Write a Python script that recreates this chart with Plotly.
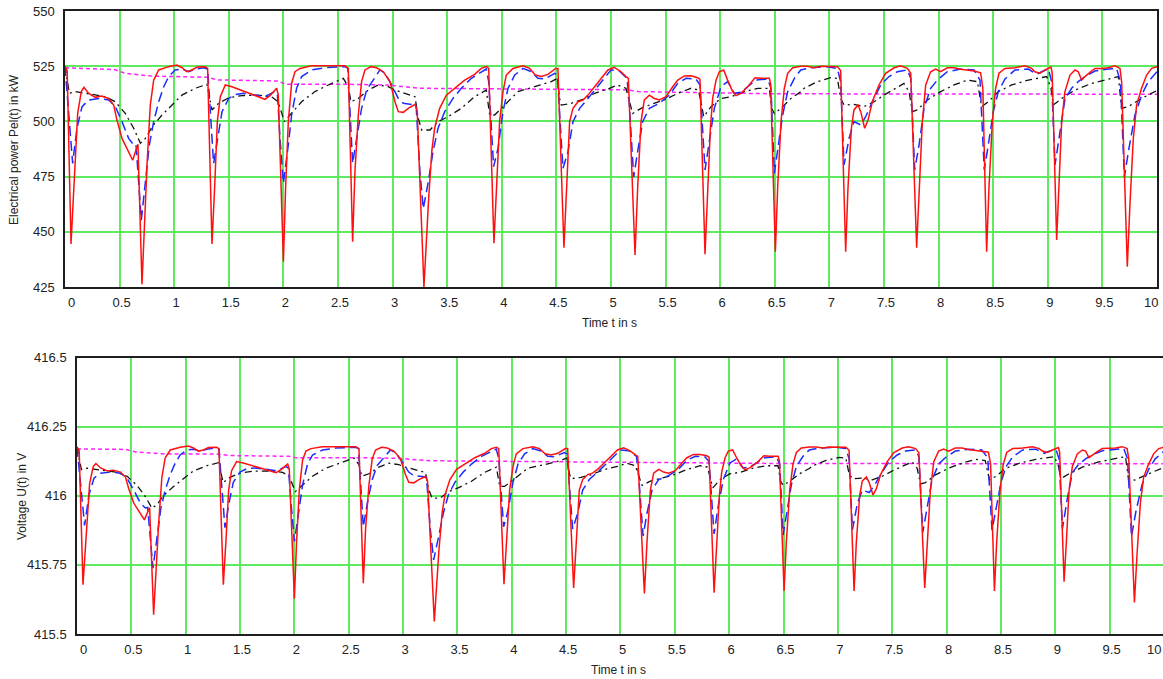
import plotly.graph_objects as go

# ---------------- data ----------------
t_red = [0.000,0.020,0.055,0.088,0.116,0.149,0.174,0.217,0.278,0.333,0.400,0.446,0.476,0.522,0.583,0.620,0.650,0.668,0.705,0.726,
         0.751,0.781,0.812,0.858,0.949,1.025,1.071,1.117,1.163,1.209,1.285,1.306,1.346,1.370,1.395,1.422,1.468,1.529,1.606,1.682,
         1.770,1.831,1.877,1.938,1.953,2.000,2.020,2.045,2.075,2.106,2.152,2.259,2.564,2.594,2.634,2.655,2.686,2.716,2.747,2.802,
         2.854,2.915,2.976,3.022,3.052,3.098,3.144,3.205,3.225,3.287,3.330,3.360,3.385,3.431,3.492,3.568,3.660,3.751,3.812,3.858,
         3.880,3.928,3.950,3.980,4.011,4.041,4.102,4.194,4.255,4.307,4.362,4.423,4.493,4.514,4.569,4.591,4.621,4.652,4.698,4.743,
         4.789,4.850,4.911,4.972,5.030,5.092,5.137,5.159,5.220,5.244,5.275,5.305,5.351,5.397,5.443,5.504,5.565,5.611,5.672,5.733,
         5.794,5.815,5.861,5.885,5.910,5.931,5.962,5.992,6.032,6.068,6.114,6.145,6.190,6.252,6.319,6.374,6.450,6.462,6.505,6.526,
         6.557,6.587,6.618,6.664,6.740,6.798,6.859,6.920,6.981,7.073,7.103,7.149,7.170,7.201,7.225,7.262,7.287,7.323,7.354,7.393,
         7.454,7.515,7.592,7.653,7.714,7.745,7.799,7.821,7.851,7.882,7.927,7.973,8.019,8.080,8.141,8.202,8.324,8.385,8.405,8.440,
         8.461,8.492,8.522,8.553,8.608,8.699,8.791,8.852,8.882,8.928,8.974,9.029,9.040,9.081,9.102,9.127,9.157,9.203,9.249,9.279,
         9.310,9.340,9.386,9.432,9.493,9.554,9.615,9.661,9.676,9.728,9.752,9.783,9.813,9.859,9.905,9.951,10.000]
p_red = [525.0,523.0,444.5,480.2,503.6,513.5,515.4,512.7,510.9,511.5,510.4,507.4,500.6,492.3,486.3,482.4,487.0,489.6,426.2,454.6,
         480.2,507.4,518.7,523.3,524.8,525.5,524.3,522.5,523.3,524.6,524.8,524.0,444.5,469.7,499.9,511.2,516.5,515.7,514.2,512.7,
         511.2,510.0,511.7,515.0,512.0,436.5,469.7,499.9,517.2,522.5,524.0,525.2,525.2,524.0,445.5,477.2,502.9,518.0,523.3,524.8,
         524.3,522.5,518.0,508.9,504.4,504.1,505.9,507.7,505.0,425.0,465.0,487.0,496.9,505.9,511.9,515.0,518.7,521.3,524.0,524.8,
         524.0,444.8,469.7,499.9,513.5,521.0,524.0,525.2,524.0,521.0,520.3,521.3,524.0,524.0,442.8,469.7,499.9,505.9,508.9,509.7,
         511.9,515.7,519.5,523.3,524.5,522.5,520.3,519.5,439.5,469.7,499.9,509.7,511.9,510.4,509.7,511.2,515.7,518.7,520.6,520.7,
         519.8,519.0,439.8,469.7,496.9,510.4,518.7,522.5,523.3,518.7,513.5,511.7,512.7,515.7,519.8,519.5,519.5,517.0,441.0,469.7,
         499.9,515.0,521.8,524.3,525.0,525.0,524.3,525.0,524.8,524.8,523.0,441.0,469.7,496.9,505.2,507.4,504.4,496.9,500.6,508.9,
         516.5,521.8,524.3,525.2,524.0,521.8,442.8,469.7,499.9,516.5,522.5,523.7,522.5,524.3,524.3,523.6,522.8,522.0,515.0,441.0,
         469.7,499.9,515.0,521.8,524.0,524.3,525.2,524.0,522.5,521.8,523.3,524.6,522.0,446.3,469.7,499.9,513.5,521.0,523.3,522.5,
         518.7,520.3,522.2,524.0,524.0,524.3,525.2,524.0,518.0,434.2,462.1,492.3,507.4,515.0,521.0,524.0,524.8]
u_red = [416.177,416.165,415.678,415.899,416.044,416.106,416.117,416.101,416.090,416.093,416.086,416.068,416.026,415.974,415.937,415.913,415.941,415.958,415.570,415.741,
         415.899,416.068,416.138,416.166,416.176,416.180,416.173,416.162,416.166,416.175,416.176,416.171,415.678,415.834,416.021,416.091,416.124,416.119,416.110,416.101,
         416.091,416.084,416.095,416.115,416.096,415.628,415.834,416.021,416.129,416.162,416.171,416.178,416.178,416.171,415.684,415.881,416.040,416.134,416.166,416.176,
         416.173,416.162,416.134,416.077,416.049,416.047,416.059,416.070,416.053,415.545,415.805,415.941,416.003,416.059,416.096,416.115,416.138,416.154,416.171,416.176,
         416.171,415.680,415.834,416.021,416.106,416.152,416.171,416.178,416.171,416.152,416.148,416.154,416.171,416.171,415.667,415.834,416.021,416.059,416.077,416.082,
         416.096,416.119,416.143,416.166,416.174,416.162,416.148,416.143,415.647,415.834,416.021,416.082,416.096,416.086,416.082,416.091,416.119,416.138,416.150,416.150,
         416.145,416.140,415.649,415.834,416.003,416.086,416.138,416.162,416.166,416.138,416.106,416.095,416.101,416.119,416.145,416.143,416.143,416.127,415.656,415.834,
         416.021,416.115,416.157,416.173,416.177,416.177,416.173,416.177,416.176,416.176,416.165,415.656,415.834,416.003,416.054,416.068,416.049,416.003,416.026,416.077,
         416.124,416.157,416.173,416.178,416.171,416.157,415.667,415.834,416.021,416.124,416.162,416.169,416.162,416.173,416.173,416.168,416.163,416.158,416.115,415.656,
         415.834,416.021,416.115,416.157,416.171,416.173,416.178,416.171,416.162,416.157,416.166,416.175,416.158,415.689,415.834,416.021,416.106,416.152,416.166,416.162,
         416.138,416.148,416.160,416.171,416.171,416.173,416.178,416.171,416.134,415.614,415.787,415.974,416.068,416.115,416.152,416.171,416.176]

t_blue = [0.000,0.015,0.070,0.110,0.156,0.217,0.308,0.400,0.461,0.522,0.583,0.629,0.650,0.699,0.736,0.772,0.812,0.858,0.904,0.949,
          1.010,1.071,1.132,1.193,1.270,1.306,1.361,1.398,1.438,1.499,1.560,1.636,1.740,1.831,1.923,1.945,1.969,2.000,2.045,2.075,
          2.121,2.167,2.259,2.380,2.564,2.590,2.634,2.671,2.716,2.762,2.823,2.884,2.930,2.991,3.052,3.098,3.174,3.215,3.250,3.281,
          3.327,3.370,3.416,3.477,3.553,3.629,3.721,3.812,3.858,3.880,3.925,3.965,4.011,4.057,4.118,4.194,4.270,4.331,4.392,4.484,
          4.508,4.560,4.606,4.652,4.713,4.789,4.865,4.942,5.000,5.076,5.147,5.168,5.208,5.244,5.290,5.351,5.443,5.534,5.611,5.687,
          5.778,5.815,5.861,5.900,5.946,6.007,6.068,6.129,6.190,6.252,6.328,6.435,6.465,6.496,6.526,6.572,6.618,6.679,6.737,6.829,
          6.981,7.073,7.103,7.134,7.180,7.225,7.287,7.332,7.393,7.470,7.546,7.622,7.714,7.745,7.781,7.821,7.867,7.927,7.988,8.080,
          8.202,8.324,8.379,8.418,8.455,8.501,8.547,8.608,8.699,8.821,8.898,8.944,9.005,9.035,9.066,9.111,9.157,9.218,9.279,9.340,
          9.432,9.554,9.630,9.665,9.701,9.743,9.798,9.859,9.920,10.000]
p_blue = [525.0,515.0,481.0,497.0,506.7,509.7,510.4,509.7,506.7,499.9,492.3,489.3,489.6,455.3,472.7,489.3,499.9,508.9,515.7,520.3,
          523.3,523.7,522.5,523.7,524.3,523.7,481.0,492.3,504.4,510.4,512.2,512.7,512.0,511.2,513.5,512.5,492.3,472.0,489.3,502.9,
          515.0,520.3,523.3,524.3,524.8,524.0,481.0,492.3,505.9,514.2,518.7,523.3,521.8,516.5,510.4,508.2,507.7,507.4,477.2,460.5,
          472.7,486.3,496.9,504.4,510.4,515.0,519.5,522.5,523.7,518.0,479.5,487.8,504.4,515.0,521.0,524.0,522.5,519.5,519.2,521.8,
          521.0,478.7,486.3,499.9,505.9,510.4,515.0,519.5,523.3,522.8,519.5,507.4,474.8,486.3,499.9,505.9,508.2,511.9,517.2,519.5,
          519.2,516.5,478.0,490.8,505.9,515.7,518.0,512.7,513.2,515.7,518.7,519.2,515.0,476.5,486.3,502.9,513.5,519.5,523.3,524.3,
          524.8,524.0,518.0,480.3,492.3,499.9,498.4,502.1,508.9,516.5,520.3,522.5,523.3,519.5,478.0,489.3,505.9,515.0,518.7,522.5,
          523.7,523.3,518.7,478.0,489.3,504.4,513.5,519.2,523.3,523.7,521.3,522.5,523.7,518.0,480.3,495.0,510.0,515.0,518.0,520.3,
          522.8,523.7,524.0,518.0,474.8,487.8,502.9,511.9,518.0,522.5]
u_blue = [416.177,416.115,415.893,416.003,416.064,416.082,416.086,416.082,416.064,416.021,415.974,415.956,415.958,415.738,415.853,415.956,416.021,416.077,416.119,416.148,
          416.166,416.169,416.162,416.169,416.173,416.169,415.885,415.974,416.049,416.086,416.098,416.101,416.096,416.091,416.106,416.100,415.974,415.835,415.956,416.040,
          416.115,416.148,416.166,416.173,416.176,416.171,415.888,415.974,416.059,416.110,416.138,416.166,416.157,416.124,416.086,416.073,416.070,416.068,415.881,415.768,
          415.853,415.937,416.003,416.049,416.086,416.115,416.143,416.162,416.169,416.134,415.888,415.946,416.049,416.115,416.152,416.171,416.162,416.143,416.141,416.157,
          416.152,415.880,415.937,416.021,416.059,416.086,416.115,416.143,416.166,416.163,416.143,416.068,415.855,415.937,416.021,416.059,416.073,416.096,416.129,416.143,
          416.141,416.124,415.862,415.965,416.059,416.119,416.134,416.101,416.104,416.119,416.138,416.141,416.115,415.858,415.937,416.040,416.106,416.143,416.166,416.173,
          416.176,416.171,416.134,415.878,415.974,416.021,416.012,416.035,416.077,416.124,416.148,416.162,416.166,416.143,415.868,415.956,416.059,416.115,416.138,416.162,
          416.169,416.166,416.138,415.876,415.956,416.049,416.106,416.141,416.166,416.169,416.154,416.162,416.169,416.134,415.882,415.991,416.084,416.115,416.134,416.148,
          416.163,416.169,416.171,416.134,415.852,415.946,416.040,416.096,416.134,416.162]

t_black = [0.000,0.040,0.095,0.186,0.278,0.370,0.461,0.552,0.629,0.690,0.736,0.797,0.888,0.980,1.071,1.193,1.300,1.346,1.407,1.499,
           1.621,1.770,1.892,1.953,2.008,2.060,2.167,2.289,2.411,2.549,2.594,2.619,2.686,2.777,2.869,2.960,3.022,3.113,3.205,3.235,
           3.266,3.342,3.416,3.507,3.629,3.751,3.858,3.889,3.934,4.026,4.148,4.301,4.453,4.508,4.530,4.545,4.637,4.728,4.850,4.972,
           5.061,5.137,5.168,5.198,5.275,5.366,5.488,5.611,5.733,5.800,5.824,5.849,5.916,6.007,6.099,6.221,6.343,6.450,6.471,6.496,
           6.557,6.648,6.740,6.768,6.890,7.012,7.073,7.103,7.134,7.225,7.317,7.409,7.500,7.622,7.683,7.729,7.760,7.806,7.897,8.019,
           8.141,8.263,8.355,8.394,8.455,8.547,8.669,8.821,8.990,9.029,9.050,9.127,9.249,9.401,9.554,9.646,9.676,9.737,9.859,10.000]
p_black = [525.0,512.7,513.5,512.7,512.2,511.2,508.9,503.6,496.9,490.1,492.3,497.5,502.9,507.4,511.9,515.0,516.8,505.2,508.2,510.7,
           511.7,511.9,511.2,508.9,499.9,502.9,508.9,513.5,516.5,519.5,515.7,508.9,510.4,514.2,516.5,515.7,514.2,512.7,511.2,501.4,
           496.1,496.1,499.9,502.1,505.9,511.2,514.2,502.9,502.9,507.4,513.5,515.7,518.0,519.5,510.4,507.4,508.2,509.7,512.7,514.7,
           516.5,515.0,508.9,503.6,505.9,507.7,509.7,512.7,515.0,514.2,508.9,502.1,506.7,510.4,511.2,513.5,515.0,515.0,505.9,503.6,
           505.9,510.4,513.5,515.0,518.0,519.8,519.5,510.4,507.4,507.7,506.7,508.9,511.9,515.7,517.2,513.5,504.4,505.2,509.7,513.5,
           516.5,518.7,518.0,506.7,508.9,513.5,516.5,518.7,520.3,515.0,507.4,510.4,514.2,517.2,519.2,520.3,505.9,506.7,510.4,514.0]
u_black = [416.177,416.095,416.100,416.095,416.092,416.085,416.071,416.038,415.997,415.955,415.968,416.001,416.034,416.062,416.090,416.109,416.120,416.048,416.067,416.082,
           416.089,416.090,416.085,416.071,416.015,416.034,416.071,416.100,416.118,416.137,416.113,416.071,416.080,416.104,416.118,416.113,416.104,416.095,416.085,416.025,
           415.992,415.992,416.015,416.029,416.053,416.085,416.104,416.034,416.034,416.062,416.100,416.113,416.128,416.137,416.080,416.062,416.067,416.076,416.095,416.107,
           416.118,416.109,416.071,416.038,416.053,416.064,416.076,416.095,416.109,416.104,416.071,416.029,416.058,416.080,416.085,416.100,416.109,416.109,416.053,416.038,
           416.053,416.080,416.100,416.109,416.128,416.139,416.137,416.080,416.062,416.064,416.058,416.071,416.090,416.113,416.123,416.100,416.043,416.048,416.076,416.100,
           416.118,416.132,416.128,416.058,416.071,416.100,416.118,416.132,416.142,416.109,416.062,416.080,416.104,416.123,416.135,416.142,416.053,416.058,416.080,416.103]

t_mag = [0.00,0.45,0.55,0.80,1.30,1.40,1.95,2.02,2.60,2.95,3.25,4.50,5.15,5.25,5.90,6.50,10.00]
p_mag = [524.3,523.5,521.8,520.5,520.0,518.8,518.3,516.8,516.8,516.5,515.0,514.5,514.3,513.5,513.0,512.5,512.3]
u_mag = [416.170,416.168,416.158,416.152,416.151,416.146,416.143,416.138,416.138,416.136,416.127,416.124,416.122,416.120,416.118,416.117,416.116]

x_ticks = [0,0.5,1,1.5,2,2.5,3,3.5,4,4.5,5,5.5,6,6.5,7,7.5,8,8.5,9,9.5,10]
x_tick_labels = ["0","0.5","1","1.5","2","2.5","3","3.5","4","4.5","5","5.5","6","6.5","7","7.5","8","8.5","9","9.5","10"]
p_ticks = [425,450,475,500,525,550]
p_tick_labels = ["425","450","475","500","525","550"]
u_ticks = [415.5,415.75,416,416.25,416.5]
u_tick_labels = ["415.5","415.75","416","416.25","416.5"]

# ---------------- figure ----------------
W, H = 1163, 679
FONT = "Liberation Sans, Arial, sans-serif"
GRID = "#5eea5e"

fig = go.Figure()

series = [
    (t_mag, p_mag, u_mag, dict(color="#ff22ff", width=1.5, dash="4px,3px")),
    (t_black, p_black, u_black, dict(color="#111111", width=1.3, dash="7px,4px,2px,4px")),
    (t_blue, p_blue, u_blue, dict(color="#1a2cff", width=1.5, dash="10px,5px")),
    (t_red, p_red, u_red, dict(color="#ff1010", width=1.5)),
]
for t, p, u, ln in series:
    fig.add_trace(go.Scatter(x=t, y=p, mode="lines", line=ln, xaxis="x", yaxis="y",
                             showlegend=False, hoverinfo="skip"))
    fig.add_trace(go.Scatter(x=t, y=u, mode="lines", line=ln, xaxis="x2", yaxis="y2",
                             showlegend=False, hoverinfo="skip"))

# end labels (0 and 10) are drawn as annotations so that they sit inside the frame like the original
inner_labels = [""] + x_tick_labels[1:-1] + [""]

tickfont = dict(family=FONT, size=13, color="#222")
common_x = dict(tickmode="array", tickvals=x_ticks, ticktext=inner_labels,
                showgrid=True, gridcolor=GRID, gridwidth=1.5, zeroline=False,
                showline=True, linecolor="#1e1e1e", linewidth=1.5, ticks="",
                tickfont=tickfont, ticklabelstandoff=3, ticklabelshift=2, automargin=False)
common_y = dict(showgrid=True, gridcolor=GRID, gridwidth=2, zeroline=False,
                showline=True, linecolor="#1e1e1e", linewidth=1.5, ticks="",
                tickfont=tickfont, ticklabelstandoff=6, tickmode="array", automargin=False)

fig.update_layout(
    width=W, height=H, margin=dict(l=0, r=0, t=0, b=0, pad=0, autoexpand=False),
    paper_bgcolor="white", plot_bgcolor="white", showlegend=False,
    xaxis=dict(common_x, domain=[65/W, 1157/W], range=[0, 10], anchor="y", mirror=True),
    yaxis=dict(common_y, domain=[1-287/H, 1-11/H], range=[425, 550], anchor="x",
               tickvals=p_ticks, ticktext=p_tick_labels, mirror=True),
    xaxis2=dict(common_x, domain=[77/W, 1.0], range=[0, 9.991], anchor="y2", mirror=True),
    yaxis2=dict(common_y, domain=[1-634/H, 1-357.7/H], range=[415.5, 416.5], anchor="x2",
                tickvals=u_ticks, ticktext=u_tick_labels, mirror=False),
)

def label(text, px, py, xanchor="center", size=13, angle=0):
    fig.add_annotation(text=text, x=px/W, y=1-py/H, xref="paper", yref="paper",
                       showarrow=False, textangle=angle, xanchor=xanchor, yanchor="middle",
                       font=dict(family=FONT, size=size, color="#222"))

label(x_tick_labels[0], 71.7, 302)
label(x_tick_labels[-1], 1150.5, 302)
label(x_tick_labels[0], 83, 649)
label(x_tick_labels[-1], 1163, 649, xanchor="right")

label("Electrical power Pel(t) in kW", 14, 150, size=12, angle=-90)
label("Time t in s", 610, 323, size=12)
label("Voltage U(t) in V", 22, 497, size=12, angle=-90)
label("Time t in s", 618, 670, size=12)

fig.write_html("out.html", config={"displayModeBar": False},
               post_script="document.body.style.margin='0';document.body.style.overflow='hidden';")
